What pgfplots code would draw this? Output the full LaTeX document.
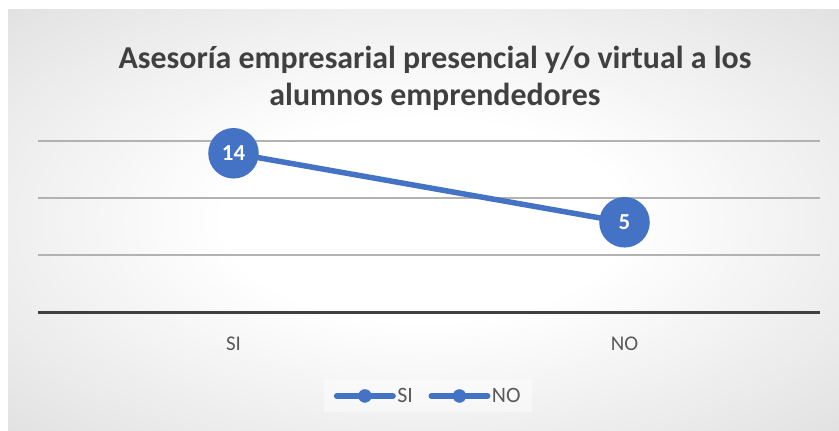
\documentclass[border=0pt]{standalone}
\usepackage{pgfplots}
\pgfplotsset{compat=1.18}
\usepackage{fontspec}
\setmainfont{Carlito}
\definecolor{serblue}{HTML}{4472C4}
\definecolor{txt}{HTML}{595959}
\definecolor{ttl}{HTML}{404040}
\pgfdeclareradialshading{bg}{\pgfpoint{0bp}{0bp}}{color(0bp)=(white); color(12bp)=(white); color(50bp)=(gray!37); color(72bp)=(gray!47)}
\begin{document}
\begin{tikzpicture}[x=1bp,y=1bp]
\fill[white] (0,0) rectangle (839,430);
\shade[shading=bg] (8,0) rectangle (839,420);
\node[font=\bfseries\fontsize{32}{37}\selectfont, text=ttl, align=center] at (435,351.5) {Asesoría empresarial presencial y/o virtual a los\\alumnos emprendedores};
\begin{axis}[
  at={(38bp,118bp)}, anchor=south west,
  width=782bp, height=171bp, scale only axis,
  xmin=-0.5, xmax=1.5, ymin=-6.70, ymax=15.60,
  clip=false,
  axis line style={draw=none},
  tick style={draw=none},
  major tick length=0pt,
  xtick={0,1}, xticklabels={SI,NO},
  xticklabel style={anchor=center, yshift=-32bp, font=\fontsize{21}{21}\selectfont, text=txt},
  ytick={0.74,8.17}, yticklabels={},
  ymajorgrids,
  major grid style={line width=1.2bp, color=gray!60},
  extra y ticks={15.60}, extra y tick labels={},
  extra y tick style={grid style={line width=1.2bp, color=gray!22}},
  legend columns=2,
  legend style={at={(0.4987,-0.491)}, anchor=center, draw=none, fill=white, fill opacity=0.45, text opacity=1,
    font=\fontsize{22}{22}\selectfont, text=txt, inner xsep=10bp, inner ysep=6bp,
    nodes={inner xsep=1.5bp},
    /tikz/every even column/.append style={column sep=14bp}},
  legend image code/.code={\draw[line width=6bp, line cap=round, serblue, draw opacity=1] (0bp,0bp) -- (56bp,0bp); \fill[serblue, fill opacity=1] (28bp,0bp) circle (6.5bp);},
]
\draw[line width=3bp, color=ttl] (axis cs:-0.5,-6.70) -- (axis cs:1.5,-6.70);
\addplot[serblue, line width=5.5bp, mark=*, mark size=22.5bp, mark options={draw=none, fill=serblue},
  point meta=explicit symbolic, nodes near coords, forget plot,
  every node near coord/.style={anchor=center, font=\bfseries\fontsize{23}{23}\selectfont, text=white}]
  coordinates {(0,14)[14] (1,5)[5]};
\addlegendimage{serblue}
\addlegendentry{SI}
\addlegendimage{serblue}
\addlegendentry{NO}
\end{axis}
\end{tikzpicture}
\end{document}
